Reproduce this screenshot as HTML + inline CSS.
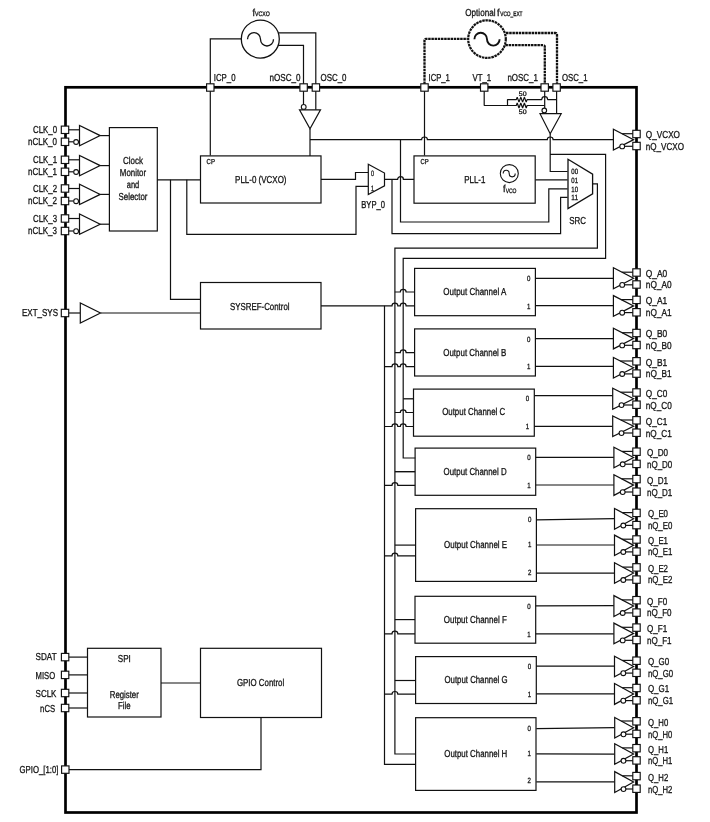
<!DOCTYPE html>
<html><head><meta charset="utf-8"><title>Block Diagram</title>
<style>
html,body{margin:0;padding:0;background:#fff;}
body{width:710px;height:822px;overflow:hidden;}
svg{display:block}
text{font-family:"Liberation Sans",sans-serif;fill:#141414;stroke:#141414;stroke-width:0.3px;text-rendering:geometricPrecision;}
svg{will-change:transform;}
</style></head><body>
<svg width="710" height="822" viewBox="0 0 710 822">
<rect x="0" y="0" width="710" height="822" fill="#fff"/>
<rect x="65.5" y="87.3" width="571.0" height="725.2" fill="none" stroke="#000" stroke-width="2.7"/>
<path d="M65.50 129.80 L79.50 129.80" fill="none" stroke="#111" stroke-width="1.2" />
<path d="M65.50 141.80 L73.60 141.80" fill="none" stroke="#111" stroke-width="1.2" />
<path d="M79.5 125.40 L79.5 145.80 L100.2 135.60 Z" fill="#fff" stroke="#111" stroke-width="1.2" />
<circle cx="76.10" cy="142.00" r="2.4" fill="#fff" stroke="#111" stroke-width="1.1" />
<path d="M100.20 135.60 L109.00 135.60" fill="none" stroke="#111" stroke-width="1.2" />
<rect x="61.30" y="126.10" width="7.4" height="7.4" fill="#fff" stroke="#111" stroke-width="1.15"/>
<rect x="61.30" y="138.10" width="7.4" height="7.4" fill="#fff" stroke="#111" stroke-width="1.15"/>
<text x="57.00" y="133.20" font-size="10.1" text-anchor="end" textLength="24.00" lengthAdjust="spacingAndGlyphs" >CLK_0</text>
<text x="57.00" y="145.20" font-size="10.1" text-anchor="end" textLength="29.00" lengthAdjust="spacingAndGlyphs" >nCLK_0</text>
<path d="M65.50 159.80 L79.50 159.80" fill="none" stroke="#111" stroke-width="1.2" />
<path d="M65.50 171.80 L73.60 171.80" fill="none" stroke="#111" stroke-width="1.2" />
<path d="M79.5 155.40 L79.5 175.80 L100.2 165.60 Z" fill="#fff" stroke="#111" stroke-width="1.2" />
<circle cx="76.10" cy="172.00" r="2.4" fill="#fff" stroke="#111" stroke-width="1.1" />
<path d="M100.20 165.60 L109.00 165.60" fill="none" stroke="#111" stroke-width="1.2" />
<rect x="61.30" y="156.10" width="7.4" height="7.4" fill="#fff" stroke="#111" stroke-width="1.15"/>
<rect x="61.30" y="168.10" width="7.4" height="7.4" fill="#fff" stroke="#111" stroke-width="1.15"/>
<text x="57.00" y="163.20" font-size="10.1" text-anchor="end" textLength="24.00" lengthAdjust="spacingAndGlyphs" >CLK_1</text>
<text x="57.00" y="175.20" font-size="10.1" text-anchor="end" textLength="29.00" lengthAdjust="spacingAndGlyphs" >nCLK_1</text>
<path d="M65.50 188.50 L79.50 188.50" fill="none" stroke="#111" stroke-width="1.2" />
<path d="M65.50 201.00 L73.60 201.00" fill="none" stroke="#111" stroke-width="1.2" />
<path d="M79.5 184.20 L79.5 204.60 L100.2 194.40 Z" fill="#fff" stroke="#111" stroke-width="1.2" />
<circle cx="76.10" cy="201.20" r="2.4" fill="#fff" stroke="#111" stroke-width="1.1" />
<path d="M100.20 194.40 L109.00 194.40" fill="none" stroke="#111" stroke-width="1.2" />
<rect x="61.30" y="184.80" width="7.4" height="7.4" fill="#fff" stroke="#111" stroke-width="1.15"/>
<rect x="61.30" y="197.30" width="7.4" height="7.4" fill="#fff" stroke="#111" stroke-width="1.15"/>
<text x="57.00" y="191.90" font-size="10.1" text-anchor="end" textLength="24.00" lengthAdjust="spacingAndGlyphs" >CLK_2</text>
<text x="57.00" y="204.40" font-size="10.1" text-anchor="end" textLength="29.00" lengthAdjust="spacingAndGlyphs" >nCLK_2</text>
<path d="M65.50 218.50 L79.50 218.50" fill="none" stroke="#111" stroke-width="1.2" />
<path d="M65.50 231.00 L73.60 231.00" fill="none" stroke="#111" stroke-width="1.2" />
<path d="M79.5 214.00 L79.5 234.40 L100.2 224.20 Z" fill="#fff" stroke="#111" stroke-width="1.2" />
<circle cx="76.10" cy="231.20" r="2.4" fill="#fff" stroke="#111" stroke-width="1.1" />
<path d="M100.20 224.20 L109.00 224.20" fill="none" stroke="#111" stroke-width="1.2" />
<rect x="61.30" y="214.80" width="7.4" height="7.4" fill="#fff" stroke="#111" stroke-width="1.15"/>
<rect x="61.30" y="227.30" width="7.4" height="7.4" fill="#fff" stroke="#111" stroke-width="1.15"/>
<text x="57.00" y="221.90" font-size="10.1" text-anchor="end" textLength="24.00" lengthAdjust="spacingAndGlyphs" >CLK_3</text>
<text x="57.00" y="234.40" font-size="10.1" text-anchor="end" textLength="29.00" lengthAdjust="spacingAndGlyphs" >nCLK_3</text>
<rect x="109.40" y="127.60" width="47.90" height="103.40" fill="none" stroke="#111" stroke-width="1.2"/>
<text x="133.00" y="164.40" font-size="10.1" text-anchor="middle" textLength="20.00" lengthAdjust="spacingAndGlyphs" >Clock</text>
<text x="133.00" y="176.40" font-size="10.1" text-anchor="middle" textLength="26.30" lengthAdjust="spacingAndGlyphs" >Monitor</text>
<text x="133.00" y="188.40" font-size="10.1" text-anchor="middle" textLength="12.50" lengthAdjust="spacingAndGlyphs" >and</text>
<text x="133.00" y="199.60" font-size="10.1" text-anchor="middle" textLength="28.90" lengthAdjust="spacingAndGlyphs" >Selector</text>
<path d="M65.50 313.00 L80.30 313.00" fill="none" stroke="#111" stroke-width="1.2" />
<path d="M80.3 302.9 L80.3 323 L100.5 313 Z" fill="#fff" stroke="#111" stroke-width="1.2" />
<path d="M100.50 313.00 L200.50 313.00" fill="none" stroke="#111" stroke-width="1.2" />
<rect x="61.30" y="309.30" width="7.4" height="7.4" fill="#fff" stroke="#111" stroke-width="1.15"/>
<text x="58.00" y="316.40" font-size="10.1" text-anchor="end" textLength="36.00" lengthAdjust="spacingAndGlyphs" >EXT_SYS</text>
<path d="M157.20 179.80 L200.50 179.80" fill="none" stroke="#111" stroke-width="1.2" />
<path d="M170.50 179.80 L170.50 299.30 L200.50 299.30" fill="none" stroke="#111" stroke-width="1.2" />
<path d="M186.80 179.80 L186.80 234.30 L356.00 234.30 L356.00 186.30 L368.30 186.30" fill="none" stroke="#111" stroke-width="1.2" />
<rect x="200.50" y="155.90" width="120.50" height="47.10" fill="none" stroke="#111" stroke-width="1.2"/>
<text x="260.80" y="183.20" font-size="10.1" text-anchor="middle" textLength="51.40" lengthAdjust="spacingAndGlyphs" >PLL-0 (VCXO)</text>
<text x="206.60" y="164.20" font-size="7.2" text-anchor="start" textLength="8.40" lengthAdjust="spacingAndGlyphs" >CP</text>
<path d="M321.00 179.40 L355.50 179.40 L355.50 172.50 L368.30 172.50" fill="none" stroke="#111" stroke-width="1.2" />
<rect x="200.50" y="282.50" width="120.50" height="46.50" fill="none" stroke="#111" stroke-width="1.2"/>
<text x="259.80" y="310.00" font-size="10.1" text-anchor="middle" textLength="59.50" lengthAdjust="spacingAndGlyphs" >SYSREF-Control</text>
<path d="M210.30 87.30 L210.30 38.80 L241.20 38.80" fill="none" stroke="#111" stroke-width="1.2" />
<path d="M210.30 87.30 L210.30 155.50" fill="none" stroke="#111" stroke-width="1.2" />
<circle cx="260.30" cy="39.10" r="19" fill="#fff" stroke="#111" stroke-width="1.3" />
<path d="M247.50 39.30 A6.5 6.7 0 0 1 260.50 39.30 A6.5 6.7 0 0 0 273.50 39.30" fill="none" stroke="#111" stroke-width="1.3" stroke-linecap="butt"/>
<path d="M278.50 32.80 L315.80 32.80 L315.80 113.00" fill="none" stroke="#111" stroke-width="1.2" />
<path d="M277.80 45.40 L303.50 45.40 L303.50 104.00" fill="none" stroke="#111" stroke-width="1.2" />
<rect x="206.60" y="83.80" width="7.4" height="7.4" fill="#fff" stroke="#111" stroke-width="1.15"/>
<rect x="299.90" y="83.80" width="7.4" height="7.4" fill="#fff" stroke="#111" stroke-width="1.15"/>
<rect x="312.20" y="83.80" width="7.4" height="7.4" fill="#fff" stroke="#111" stroke-width="1.15"/>
<path d="M299.5 109.8 L320.5 109.8 L310 128.7 Z" fill="#fff" stroke="#111" stroke-width="1.2" />
<circle cx="303.70" cy="106.90" r="2.4" fill="#fff" stroke="#111" stroke-width="1.1" />
<path d="M310.00 128.70 L310.00 155.90" fill="none" stroke="#111" stroke-width="1.2" />
<text x="252.60" y="15.80" font-size="10.1" text-anchor="start" textLength="2.50" lengthAdjust="spacingAndGlyphs" >f</text>
<text x="255.00" y="15.80" font-size="6.5" text-anchor="start" textLength="14.70" lengthAdjust="spacingAndGlyphs" >VCXO</text>
<text x="213.80" y="80.90" font-size="10.1" text-anchor="start" textLength="21.70" lengthAdjust="spacingAndGlyphs" >ICP_0</text>
<text x="269.50" y="80.90" font-size="10.1" text-anchor="start" textLength="31.00" lengthAdjust="spacingAndGlyphs" >nOSC_0</text>
<text x="320.50" y="80.90" font-size="10.1" text-anchor="start" textLength="26.00" lengthAdjust="spacingAndGlyphs" >OSC_0</text>
<path d="M310.00 139.70 L421.60 139.70 A2.9 2.7 0 0 1 427.40 139.70 L547.30 139.70 A2.9 2.7 0 0 1 553.10 139.70 L613.40 139.70" fill="none" stroke="#111" stroke-width="1.2" />
<path d="M400.50 139.70 L400.50 222.00 L548.80 222.00 L548.80 188.80 L567.60 188.80" fill="none" stroke="#111" stroke-width="1.2" />
<path d="M368.3 164.2 L384.5 173 L384.5 185.8 L368.3 194.6 Z" fill="#fff" stroke="#111" stroke-width="1.2" />
<text x="371.10" y="175.60" font-size="7.8" text-anchor="start" textLength="3.00" lengthAdjust="spacingAndGlyphs" >0</text>
<text x="371.10" y="190.60" font-size="7.8" text-anchor="start" textLength="3.00" lengthAdjust="spacingAndGlyphs" >1</text>
<text x="361.30" y="208.00" font-size="10.1" text-anchor="start" textLength="23.70" lengthAdjust="spacingAndGlyphs" >BYP_0</text>
<path d="M384.50 179.40 L397.60 179.40 A2.9 2.7 0 0 1 403.40 179.40 L414.00 179.40" fill="none" stroke="#111" stroke-width="1.2" />
<path d="M392.00 179.40 L392.00 233.60 L560.60 233.60 L560.60 197.30 L567.60 197.30" fill="none" stroke="#111" stroke-width="1.2" />
<rect x="414.00" y="155.90" width="121.20" height="47.30" fill="none" stroke="#111" stroke-width="1.2"/>
<text x="420.40" y="164.20" font-size="7.2" text-anchor="start" textLength="8.20" lengthAdjust="spacingAndGlyphs" >CP</text>
<text x="464.20" y="183.00" font-size="10.1" text-anchor="start" textLength="21.20" lengthAdjust="spacingAndGlyphs" >PLL-1</text>
<circle cx="509.30" cy="173.60" r="9" fill="#fff" stroke="#111" stroke-width="1.1" />
<path d="M503.20 173.60 A3.0 3.3 0 0 1 509.20 173.60 A3.0 3.3 0 0 0 515.20 173.60" fill="none" stroke="#111" stroke-width="1.1" stroke-linecap="butt"/>
<text x="503.00" y="191.60" font-size="10.1" text-anchor="start" textLength="2.60" lengthAdjust="spacingAndGlyphs" >f</text>
<text x="505.70" y="192.60" font-size="6.4" text-anchor="start" textLength="10.80" lengthAdjust="spacingAndGlyphs" >VCO</text>
<path d="M424.50 87.30 L424.50 155.50" fill="none" stroke="#111" stroke-width="1.2" />
<path d="M535.40 179.80 L567.60 179.80" fill="none" stroke="#111" stroke-width="1.2" />
<path d="M424.5 84 L424.5 40.3 Q424.5 38.8 426 38.8 L467.5 38.8" fill="none" stroke="#111" stroke-width="2.3" stroke-dasharray="2.5 0.7" stroke-linejoin="round"/>
<circle cx="487.00" cy="39.10" r="18.8" fill="#fff" stroke="#111" stroke-width="2.2" stroke-dasharray="2.5 0.7"/>
<path d="M474.40 39.20 A6.3 6.4 0 0 1 487.00 39.20 A6.3 6.4 0 0 0 499.60 39.20" fill="none" stroke="#111" stroke-width="1.9" stroke-linecap="butt"/>
<path d="M506 33 L555.3 33 Q557 33 557 34.7 L557 84" fill="none" stroke="#111" stroke-width="2.3" stroke-dasharray="2.5 0.7" stroke-linejoin="round"/>
<path d="M505.4 45.2 L543.2 45.2 Q544.8 45.2 544.8 46.8 L544.8 84" fill="none" stroke="#111" stroke-width="2.3" stroke-dasharray="2.5 0.7" stroke-linejoin="round"/>
<text x="465.30" y="15.80" font-size="10.1" text-anchor="start" textLength="30.20" lengthAdjust="spacingAndGlyphs" >Optional</text>
<text x="497.00" y="15.80" font-size="10.1" text-anchor="start" textLength="2.60" lengthAdjust="spacingAndGlyphs" >f</text>
<text x="500.20" y="15.80" font-size="6.4" text-anchor="start" textLength="22.30" lengthAdjust="spacingAndGlyphs" >VCO_EXT</text>
<text x="428.50" y="80.90" font-size="10.1" text-anchor="start" textLength="21.40" lengthAdjust="spacingAndGlyphs" >ICP_1</text>
<text x="472.50" y="80.90" font-size="10.1" text-anchor="start" textLength="18.70" lengthAdjust="spacingAndGlyphs" >VT_1</text>
<text x="507.40" y="80.90" font-size="10.1" text-anchor="start" textLength="30.40" lengthAdjust="spacingAndGlyphs" >nOSC_1</text>
<text x="562.00" y="80.90" font-size="10.1" text-anchor="start" textLength="25.50" lengthAdjust="spacingAndGlyphs" >OSC_1</text>
<path d="M484.20 87.30 L484.20 105.50 L516.30 105.50 L516.30 105.50 L517.20 103.00 L519.00 108.00 L520.80 103.00 L522.60 108.00 L524.40 103.00 L526.20 108.00 L527.10 105.50 L544.70 105.50" fill="none" stroke="#111" stroke-width="1.2" stroke-linejoin="bevel"/>
<path d="M507.5 105.5 L507.5 99.6 L516.3 99.6 L516.30 99.60 L517.20 97.10 L519.00 102.10 L520.80 97.10 L522.60 102.10 L524.40 97.10 L526.20 102.10 L527.10 99.60 L541.8 99.6 A2.9 2.9 0 0 1 547.6 99.6 L556.6 99.6" fill="none" stroke="#111" stroke-width="1.2" stroke-linejoin="bevel"/>
<text x="518.80" y="95.60" font-size="6.6" text-anchor="start" textLength="7.80" lengthAdjust="spacingAndGlyphs" >50</text>
<text x="518.80" y="113.90" font-size="6.6" text-anchor="start" textLength="7.80" lengthAdjust="spacingAndGlyphs" >50</text>
<path d="M544.70 87.30 L544.70 108.00" fill="none" stroke="#111" stroke-width="1.2" />
<path d="M556.60 87.30 L556.60 113.80" fill="none" stroke="#111" stroke-width="1.2" />
<rect x="420.80" y="83.80" width="7.4" height="7.4" fill="#fff" stroke="#111" stroke-width="1.15"/>
<rect x="480.50" y="83.80" width="7.4" height="7.4" fill="#fff" stroke="#111" stroke-width="1.15"/>
<rect x="541.00" y="83.80" width="7.4" height="7.4" fill="#fff" stroke="#111" stroke-width="1.15"/>
<rect x="552.90" y="83.80" width="7.4" height="7.4" fill="#fff" stroke="#111" stroke-width="1.15"/>
<path d="M540 113.7 L561.2 113.7 L550.2 133.8 Z" fill="#fff" stroke="#111" stroke-width="1.2" />
<circle cx="544.30" cy="110.40" r="2.3" fill="#fff" stroke="#111" stroke-width="1.1" />
<path d="M550.20 133.80 L550.20 171.50 L567.60 171.50" fill="none" stroke="#111" stroke-width="1.2" />
<path d="M550.00 154.40 L605.60 154.40 L605.60 258.30 L403.20 258.30 L403.20 458.00 L415.30 458.00" fill="none" stroke="#111" stroke-width="1.2" />
<path d="M568 159.3 L592.6 174.2 L592.6 193.8 L568 208.5 Z" fill="#fff" stroke="#111" stroke-width="1.3" />
<text x="571.30" y="174.20" font-size="7.5" text-anchor="start" textLength="6.70" lengthAdjust="spacingAndGlyphs" >00</text>
<text x="571.30" y="182.60" font-size="7.5" text-anchor="start" textLength="6.70" lengthAdjust="spacingAndGlyphs" >01</text>
<text x="571.30" y="191.60" font-size="7.5" text-anchor="start" textLength="6.70" lengthAdjust="spacingAndGlyphs" >10</text>
<text x="571.30" y="200.20" font-size="7.5" text-anchor="start" textLength="6.70" lengthAdjust="spacingAndGlyphs" >11</text>
<text x="569.30" y="223.90" font-size="10.1" text-anchor="start" textLength="16.80" lengthAdjust="spacingAndGlyphs" >SRC</text>
<path d="M592.40 183.80 L597.40 183.80 L597.40 248.10 L394.90 248.10 L394.90 754.00 L415.70 754.00" fill="none" stroke="#111" stroke-width="1.2" />
<path d="M613.40 129.20 L613.40 150.10 L633.60 139.65 Z" fill="#fff" stroke="#111" stroke-width="1.2" />
<path d="M622.10 133.70 L633.00 133.70" fill="none" stroke="#111" stroke-width="1.2" />
<path d="M622.20 146.30 L633.00 146.30" fill="none" stroke="#111" stroke-width="1.2" />
<circle cx="622.20" cy="146.40" r="2.4" fill="#fff" stroke="#111" stroke-width="1.1" />
<rect x="632.80" y="130.30" width="7.4" height="7.4" fill="#fff" stroke="#111" stroke-width="1.15"/>
<rect x="632.80" y="142.30" width="7.4" height="7.4" fill="#fff" stroke="#111" stroke-width="1.15"/>
<text x="645.80" y="138.40" font-size="10.1" text-anchor="start" textLength="34.20" lengthAdjust="spacingAndGlyphs" >Q_VCXO</text>
<text x="645.80" y="149.80" font-size="10.1" text-anchor="start" textLength="38.20" lengthAdjust="spacingAndGlyphs" >nQ_VCXO</text>
<path d="M384.50 305.80 L384.50 764.30 L415.70 764.30" fill="none" stroke="#111" stroke-width="1.2" />
<rect x="414.60" y="268.40" width="120.80" height="47.30" fill="none" stroke="#111" stroke-width="1.2"/>
<text x="474.80" y="294.80" font-size="10.1" text-anchor="middle" textLength="63.00" lengthAdjust="spacingAndGlyphs" >Output Channel A</text>
<text x="528.60" y="281.10" font-size="7.6" text-anchor="middle" textLength="3.40" lengthAdjust="spacingAndGlyphs" >0</text>
<text x="528.60" y="308.70" font-size="7.6" text-anchor="middle" textLength="3.40" lengthAdjust="spacingAndGlyphs" >1</text>
<path d="M394.90 292.00 L400.30 292.00 A2.9 2.7 0 0 1 406.10 292.00 L414.30 292.00" fill="none" stroke="#111" stroke-width="1.2" />
<path d="M321.00 305.80 L392.00 305.80 A2.9 2.7 0 0 1 397.80 305.80 L400.30 305.80 A2.9 2.7 0 0 1 406.10 305.80 L414.30 305.80" fill="none" stroke="#111" stroke-width="1.2" />
<rect x="414.60" y="328.90" width="120.80" height="47.10" fill="none" stroke="#111" stroke-width="1.2"/>
<text x="474.80" y="355.80" font-size="10.1" text-anchor="middle" textLength="63.00" lengthAdjust="spacingAndGlyphs" >Output Channel B</text>
<text x="528.60" y="341.90" font-size="7.6" text-anchor="middle" textLength="3.40" lengthAdjust="spacingAndGlyphs" >0</text>
<text x="528.60" y="368.50" font-size="7.6" text-anchor="middle" textLength="3.40" lengthAdjust="spacingAndGlyphs" >1</text>
<path d="M394.90 352.60 L400.30 352.60 A2.9 2.7 0 0 1 406.10 352.60 L414.30 352.60" fill="none" stroke="#111" stroke-width="1.2" />
<path d="M384.50 366.60 L392.00 366.60 A2.9 2.7 0 0 1 397.80 366.60 L400.30 366.60 A2.9 2.7 0 0 1 406.10 366.60 L414.30 366.60" fill="none" stroke="#111" stroke-width="1.2" />
<rect x="413.50" y="389.10" width="120.80" height="47.10" fill="none" stroke="#111" stroke-width="1.2"/>
<text x="473.70" y="414.80" font-size="10.1" text-anchor="middle" textLength="63.00" lengthAdjust="spacingAndGlyphs" >Output Channel C</text>
<text x="527.50" y="401.20" font-size="7.6" text-anchor="middle" textLength="3.40" lengthAdjust="spacingAndGlyphs" >0</text>
<text x="527.50" y="429.10" font-size="7.6" text-anchor="middle" textLength="3.40" lengthAdjust="spacingAndGlyphs" >1</text>
<path d="M403.20 398.80 L413.50 398.80" fill="none" stroke="#111" stroke-width="1.3" />
<path d="M394.90 412.50 L400.30 412.50 A2.9 2.7 0 0 1 406.10 412.50 L413.50 412.50" fill="none" stroke="#111" stroke-width="1.2" />
<path d="M384.50 426.50 L392.00 426.50 A2.9 2.7 0 0 1 397.80 426.50 L400.30 426.50 A2.9 2.7 0 0 1 406.10 426.50 L413.50 426.50" fill="none" stroke="#111" stroke-width="1.2" />
<rect x="415.10" y="448.10" width="120.60" height="47.20" fill="none" stroke="#111" stroke-width="1.2"/>
<text x="475.10" y="474.90" font-size="10.1" text-anchor="middle" textLength="63.00" lengthAdjust="spacingAndGlyphs" >Output Channel D</text>
<text x="528.90" y="460.10" font-size="7.6" text-anchor="middle" textLength="3.40" lengthAdjust="spacingAndGlyphs" >0</text>
<text x="528.90" y="488.00" font-size="7.6" text-anchor="middle" textLength="3.40" lengthAdjust="spacingAndGlyphs" >1</text>
<path d="M394.90 471.70 L415.10 471.70" fill="none" stroke="#111" stroke-width="1.4" />
<path d="M384.50 485.30 L392.00 485.30 A2.9 2.7 0 0 1 397.80 485.30 L415.10 485.30" fill="none" stroke="#111" stroke-width="1.2" />
<rect x="415.60" y="508.70" width="120.80" height="72.70" fill="none" stroke="#111" stroke-width="1.2"/>
<text x="475.60" y="547.80" font-size="10.1" text-anchor="middle" textLength="63.00" lengthAdjust="spacingAndGlyphs" >Output Channel E</text>
<text x="529.60" y="522.00" font-size="7.6" text-anchor="middle" textLength="3.40" lengthAdjust="spacingAndGlyphs" >0</text>
<text x="529.60" y="547.00" font-size="7.6" text-anchor="middle" textLength="3.40" lengthAdjust="spacingAndGlyphs" >1</text>
<text x="529.60" y="575.30" font-size="7.6" text-anchor="middle" textLength="3.40" lengthAdjust="spacingAndGlyphs" >2</text>
<path d="M394.90 545.10 L415.60 545.10" fill="none" stroke="#111" stroke-width="1.2" />
<path d="M384.50 555.80 L392.00 555.80 A2.9 2.7 0 0 1 397.80 555.80 L415.60 555.80" fill="none" stroke="#111" stroke-width="1.2" />
<rect x="415.00" y="596.30" width="120.70" height="46.90" fill="none" stroke="#111" stroke-width="1.2"/>
<text x="475.30" y="622.80" font-size="10.1" text-anchor="middle" textLength="63.00" lengthAdjust="spacingAndGlyphs" >Output Channel F</text>
<text x="528.90" y="608.60" font-size="7.6" text-anchor="middle" textLength="3.40" lengthAdjust="spacingAndGlyphs" >0</text>
<text x="528.90" y="636.50" font-size="7.6" text-anchor="middle" textLength="3.40" lengthAdjust="spacingAndGlyphs" >1</text>
<path d="M394.90 619.60 L415.00 619.60" fill="none" stroke="#111" stroke-width="1.2" />
<path d="M384.50 633.80 L392.00 633.80 A2.9 2.7 0 0 1 397.80 633.80 L415.00 633.80" fill="none" stroke="#111" stroke-width="1.2" />
<rect x="415.60" y="656.60" width="120.70" height="46.90" fill="none" stroke="#111" stroke-width="1.2"/>
<text x="476.00" y="682.90" font-size="10.1" text-anchor="middle" textLength="63.00" lengthAdjust="spacingAndGlyphs" >Output Channel G</text>
<text x="529.50" y="668.90" font-size="7.6" text-anchor="middle" textLength="3.40" lengthAdjust="spacingAndGlyphs" >0</text>
<text x="529.50" y="696.50" font-size="7.6" text-anchor="middle" textLength="3.40" lengthAdjust="spacingAndGlyphs" >1</text>
<path d="M394.90 680.50 L415.60 680.50" fill="none" stroke="#111" stroke-width="1.2" />
<path d="M384.50 694.20 L392.00 694.20 A2.9 2.7 0 0 1 397.80 694.20 L415.60 694.20" fill="none" stroke="#111" stroke-width="1.2" />
<rect x="415.60" y="717.70" width="120.40" height="72.70" fill="none" stroke="#111" stroke-width="1.2"/>
<text x="475.80" y="756.60" font-size="10.1" text-anchor="middle" textLength="63.00" lengthAdjust="spacingAndGlyphs" >Output Channel H</text>
<text x="529.20" y="731.20" font-size="7.6" text-anchor="middle" textLength="3.40" lengthAdjust="spacingAndGlyphs" >0</text>
<text x="529.20" y="756.30" font-size="7.6" text-anchor="middle" textLength="3.40" lengthAdjust="spacingAndGlyphs" >1</text>
<text x="529.20" y="783.00" font-size="7.6" text-anchor="middle" textLength="3.40" lengthAdjust="spacingAndGlyphs" >2</text>
<path d="M535.40 278.30 L613.40 278.30" fill="none" stroke="#111" stroke-width="1.2" />
<path d="M613.40 267.80 L613.40 288.80 L633.60 278.30 Z" fill="#fff" stroke="#111" stroke-width="1.2" />
<path d="M621.86 272.20 L633.00 272.20" fill="none" stroke="#111" stroke-width="1.2" />
<path d="M622.20 284.80 L633.00 284.80" fill="none" stroke="#111" stroke-width="1.2" />
<circle cx="622.20" cy="284.90" r="2.4" fill="#fff" stroke="#111" stroke-width="1.1" />
<rect x="632.80" y="268.80" width="7.4" height="7.4" fill="#fff" stroke="#111" stroke-width="1.15"/>
<rect x="632.80" y="280.80" width="7.4" height="7.4" fill="#fff" stroke="#111" stroke-width="1.15"/>
<text x="645.80" y="276.90" font-size="10.1" text-anchor="start" textLength="21.40" lengthAdjust="spacingAndGlyphs" >Q_A0</text>
<text x="645.80" y="288.30" font-size="10.1" text-anchor="start" textLength="25.80" lengthAdjust="spacingAndGlyphs" >nQ_A0</text>
<path d="M535.40 305.70 L613.40 305.70" fill="none" stroke="#111" stroke-width="1.2" />
<path d="M613.40 295.60 L613.40 316.20 L633.60 305.90 Z" fill="#fff" stroke="#111" stroke-width="1.2" />
<path d="M621.24 299.60 L633.00 299.60" fill="none" stroke="#111" stroke-width="1.2" />
<path d="M622.20 312.60 L633.00 312.60" fill="none" stroke="#111" stroke-width="1.2" />
<circle cx="622.20" cy="312.70" r="2.4" fill="#fff" stroke="#111" stroke-width="1.1" />
<rect x="632.80" y="296.20" width="7.4" height="7.4" fill="#fff" stroke="#111" stroke-width="1.15"/>
<rect x="632.80" y="308.60" width="7.4" height="7.4" fill="#fff" stroke="#111" stroke-width="1.15"/>
<text x="645.80" y="304.30" font-size="10.1" text-anchor="start" textLength="21.40" lengthAdjust="spacingAndGlyphs" >Q_A1</text>
<text x="645.80" y="316.10" font-size="10.1" text-anchor="start" textLength="25.80" lengthAdjust="spacingAndGlyphs" >nQ_A1</text>
<path d="M535.40 338.60 L613.40 338.60" fill="none" stroke="#111" stroke-width="1.2" />
<path d="M613.40 328.30 L613.40 348.90 L633.60 338.60 Z" fill="#fff" stroke="#111" stroke-width="1.2" />
<path d="M622.03 332.70 L633.00 332.70" fill="none" stroke="#111" stroke-width="1.2" />
<path d="M622.20 345.30 L633.00 345.30" fill="none" stroke="#111" stroke-width="1.2" />
<circle cx="622.20" cy="345.40" r="2.4" fill="#fff" stroke="#111" stroke-width="1.1" />
<rect x="632.80" y="329.30" width="7.4" height="7.4" fill="#fff" stroke="#111" stroke-width="1.15"/>
<rect x="632.80" y="341.30" width="7.4" height="7.4" fill="#fff" stroke="#111" stroke-width="1.15"/>
<text x="645.80" y="337.40" font-size="10.1" text-anchor="start" textLength="21.40" lengthAdjust="spacingAndGlyphs" >Q_B0</text>
<text x="645.80" y="348.80" font-size="10.1" text-anchor="start" textLength="25.80" lengthAdjust="spacingAndGlyphs" >nQ_B0</text>
<path d="M535.40 366.30 L613.40 366.30" fill="none" stroke="#111" stroke-width="1.2" />
<path d="M613.40 357.50 L613.40 378.00 L633.60 367.75 Z" fill="#fff" stroke="#111" stroke-width="1.2" />
<path d="M620.30 361.00 L633.00 361.00" fill="none" stroke="#111" stroke-width="1.2" />
<path d="M622.20 373.90 L633.00 373.90" fill="none" stroke="#111" stroke-width="1.2" />
<circle cx="622.20" cy="374.00" r="2.4" fill="#fff" stroke="#111" stroke-width="1.1" />
<rect x="632.80" y="357.60" width="7.4" height="7.4" fill="#fff" stroke="#111" stroke-width="1.15"/>
<rect x="632.80" y="369.90" width="7.4" height="7.4" fill="#fff" stroke="#111" stroke-width="1.15"/>
<text x="645.80" y="365.70" font-size="10.1" text-anchor="start" textLength="21.40" lengthAdjust="spacingAndGlyphs" >Q_B1</text>
<text x="645.80" y="377.40" font-size="10.1" text-anchor="start" textLength="25.80" lengthAdjust="spacingAndGlyphs" >nQ_B1</text>
<path d="M534.30 395.70 L612.70 395.70" fill="none" stroke="#111" stroke-width="1.2" />
<path d="M612.70 388.20 L612.70 409.20 L633.60 398.70 Z" fill="#fff" stroke="#111" stroke-width="1.2" />
<path d="M620.66 392.20 L633.00 392.20" fill="none" stroke="#111" stroke-width="1.2" />
<path d="M621.50 405.00 L633.00 405.00" fill="none" stroke="#111" stroke-width="1.2" />
<circle cx="621.50" cy="405.10" r="2.4" fill="#fff" stroke="#111" stroke-width="1.1" />
<rect x="632.80" y="388.80" width="7.4" height="7.4" fill="#fff" stroke="#111" stroke-width="1.15"/>
<rect x="632.80" y="401.00" width="7.4" height="7.4" fill="#fff" stroke="#111" stroke-width="1.15"/>
<text x="645.80" y="396.90" font-size="10.1" text-anchor="start" textLength="21.50" lengthAdjust="spacingAndGlyphs" >Q_C0</text>
<text x="645.80" y="408.50" font-size="10.1" text-anchor="start" textLength="26.00" lengthAdjust="spacingAndGlyphs" >nQ_C0</text>
<path d="M534.30 426.40 L612.70 426.40" fill="none" stroke="#111" stroke-width="1.2" />
<path d="M612.70 416.00 L612.70 436.50 L633.60 426.25 Z" fill="#fff" stroke="#111" stroke-width="1.2" />
<path d="M620.86 420.00 L633.00 420.00" fill="none" stroke="#111" stroke-width="1.2" />
<path d="M621.50 433.00 L633.00 433.00" fill="none" stroke="#111" stroke-width="1.2" />
<circle cx="621.50" cy="433.10" r="2.4" fill="#fff" stroke="#111" stroke-width="1.1" />
<rect x="632.80" y="416.60" width="7.4" height="7.4" fill="#fff" stroke="#111" stroke-width="1.15"/>
<rect x="632.80" y="429.00" width="7.4" height="7.4" fill="#fff" stroke="#111" stroke-width="1.15"/>
<text x="645.80" y="424.70" font-size="10.1" text-anchor="start" textLength="21.50" lengthAdjust="spacingAndGlyphs" >Q_C1</text>
<text x="645.80" y="436.50" font-size="10.1" text-anchor="start" textLength="26.00" lengthAdjust="spacingAndGlyphs" >nQ_C1</text>
<path d="M535.70 457.40 L613.90 457.40" fill="none" stroke="#111" stroke-width="1.2" />
<path d="M613.90 447.20 L613.90 467.70 L633.60 457.45 Z" fill="#fff" stroke="#111" stroke-width="1.2" />
<path d="M621.97 451.40 L633.00 451.40" fill="none" stroke="#111" stroke-width="1.2" />
<path d="M622.70 464.20 L633.00 464.20" fill="none" stroke="#111" stroke-width="1.2" />
<circle cx="622.70" cy="464.30" r="2.4" fill="#fff" stroke="#111" stroke-width="1.1" />
<rect x="632.80" y="448.00" width="7.4" height="7.4" fill="#fff" stroke="#111" stroke-width="1.15"/>
<rect x="632.80" y="460.20" width="7.4" height="7.4" fill="#fff" stroke="#111" stroke-width="1.15"/>
<text x="647.00" y="456.10" font-size="10.1" text-anchor="start" textLength="21.10" lengthAdjust="spacingAndGlyphs" >Q_D0</text>
<text x="647.00" y="467.70" font-size="10.1" text-anchor="start" textLength="25.30" lengthAdjust="spacingAndGlyphs" >nQ_D0</text>
<path d="M535.70 485.00 L613.90 485.00" fill="none" stroke="#111" stroke-width="1.2" />
<path d="M613.90 474.80 L613.90 495.40 L633.60 485.10 Z" fill="#fff" stroke="#111" stroke-width="1.2" />
<path d="M621.55 478.80 L633.00 478.80" fill="none" stroke="#111" stroke-width="1.2" />
<path d="M622.70 492.00 L633.00 492.00" fill="none" stroke="#111" stroke-width="1.2" />
<circle cx="622.70" cy="492.10" r="2.4" fill="#fff" stroke="#111" stroke-width="1.1" />
<rect x="632.80" y="475.40" width="7.4" height="7.4" fill="#fff" stroke="#111" stroke-width="1.15"/>
<rect x="632.80" y="488.00" width="7.4" height="7.4" fill="#fff" stroke="#111" stroke-width="1.15"/>
<text x="647.00" y="483.50" font-size="10.1" text-anchor="start" textLength="21.10" lengthAdjust="spacingAndGlyphs" >Q_D1</text>
<text x="647.00" y="495.50" font-size="10.1" text-anchor="start" textLength="25.30" lengthAdjust="spacingAndGlyphs" >nQ_D1</text>
<path d="M536.30 519.80 L614.50 518.70" fill="none" stroke="#111" stroke-width="1.2" />
<path d="M614.50 508.40 L614.50 529.20 L633.60 518.80 Z" fill="#fff" stroke="#111" stroke-width="1.2" />
<path d="M622.21 512.60 L633.00 512.60" fill="none" stroke="#111" stroke-width="1.2" />
<path d="M623.30 525.40 L633.00 525.40" fill="none" stroke="#111" stroke-width="1.2" />
<circle cx="623.30" cy="525.50" r="2.4" fill="#fff" stroke="#111" stroke-width="1.1" />
<rect x="632.80" y="509.20" width="7.4" height="7.4" fill="#fff" stroke="#111" stroke-width="1.15"/>
<rect x="632.80" y="521.40" width="7.4" height="7.4" fill="#fff" stroke="#111" stroke-width="1.15"/>
<text x="647.90" y="517.30" font-size="10.1" text-anchor="start" textLength="20.10" lengthAdjust="spacingAndGlyphs" >Q_E0</text>
<text x="647.90" y="528.90" font-size="10.1" text-anchor="start" textLength="24.40" lengthAdjust="spacingAndGlyphs" >nQ_E0</text>
<path d="M536.30 545.00 L614.50 545.00" fill="none" stroke="#111" stroke-width="1.2" />
<path d="M614.50 535.10 L614.50 555.60 L633.60 545.35 Z" fill="#fff" stroke="#111" stroke-width="1.2" />
<path d="M622.14 539.20 L633.00 539.20" fill="none" stroke="#111" stroke-width="1.2" />
<path d="M623.30 551.90 L633.00 551.90" fill="none" stroke="#111" stroke-width="1.2" />
<circle cx="623.30" cy="552.00" r="2.4" fill="#fff" stroke="#111" stroke-width="1.1" />
<rect x="632.80" y="535.80" width="7.4" height="7.4" fill="#fff" stroke="#111" stroke-width="1.15"/>
<rect x="632.80" y="547.90" width="7.4" height="7.4" fill="#fff" stroke="#111" stroke-width="1.15"/>
<text x="647.90" y="543.90" font-size="10.1" text-anchor="start" textLength="20.10" lengthAdjust="spacingAndGlyphs" >Q_E1</text>
<text x="647.90" y="555.40" font-size="10.1" text-anchor="start" textLength="24.40" lengthAdjust="spacingAndGlyphs" >nQ_E1</text>
<path d="M536.30 573.10 L614.50 573.10" fill="none" stroke="#111" stroke-width="1.2" />
<path d="M614.50 562.70 L614.50 583.30 L633.60 573.00 Z" fill="#fff" stroke="#111" stroke-width="1.2" />
<path d="M622.66 567.10 L633.00 567.10" fill="none" stroke="#111" stroke-width="1.2" />
<path d="M623.30 579.90 L633.00 579.90" fill="none" stroke="#111" stroke-width="1.2" />
<circle cx="623.30" cy="580.00" r="2.4" fill="#fff" stroke="#111" stroke-width="1.1" />
<rect x="632.80" y="563.70" width="7.4" height="7.4" fill="#fff" stroke="#111" stroke-width="1.15"/>
<rect x="632.80" y="575.90" width="7.4" height="7.4" fill="#fff" stroke="#111" stroke-width="1.15"/>
<text x="647.90" y="571.80" font-size="10.1" text-anchor="start" textLength="20.10" lengthAdjust="spacingAndGlyphs" >Q_E2</text>
<text x="647.90" y="583.40" font-size="10.1" text-anchor="start" textLength="24.40" lengthAdjust="spacingAndGlyphs" >nQ_E2</text>
<path d="M535.70 605.90 L613.90 605.70" fill="none" stroke="#111" stroke-width="1.2" />
<path d="M613.90 595.60 L613.90 616.50 L633.60 606.05 Z" fill="#fff" stroke="#111" stroke-width="1.2" />
<path d="M622.01 599.90 L633.00 599.90" fill="none" stroke="#111" stroke-width="1.2" />
<path d="M622.70 612.90 L633.00 612.90" fill="none" stroke="#111" stroke-width="1.2" />
<circle cx="622.70" cy="613.00" r="2.4" fill="#fff" stroke="#111" stroke-width="1.1" />
<rect x="632.80" y="596.50" width="7.4" height="7.4" fill="#fff" stroke="#111" stroke-width="1.15"/>
<rect x="632.80" y="608.90" width="7.4" height="7.4" fill="#fff" stroke="#111" stroke-width="1.15"/>
<text x="647.00" y="604.60" font-size="10.1" text-anchor="start" textLength="20.10" lengthAdjust="spacingAndGlyphs" >Q_F0</text>
<text x="647.00" y="616.40" font-size="10.1" text-anchor="start" textLength="24.60" lengthAdjust="spacingAndGlyphs" >nQ_F0</text>
<path d="M535.70 633.80 L613.90 633.80" fill="none" stroke="#111" stroke-width="1.2" />
<path d="M613.90 623.10 L613.90 643.70 L633.60 633.40 Z" fill="#fff" stroke="#111" stroke-width="1.2" />
<path d="M621.93 627.30 L633.00 627.30" fill="none" stroke="#111" stroke-width="1.2" />
<path d="M622.70 640.30 L633.00 640.30" fill="none" stroke="#111" stroke-width="1.2" />
<circle cx="622.70" cy="640.40" r="2.4" fill="#fff" stroke="#111" stroke-width="1.1" />
<rect x="632.80" y="623.90" width="7.4" height="7.4" fill="#fff" stroke="#111" stroke-width="1.15"/>
<rect x="632.80" y="636.30" width="7.4" height="7.4" fill="#fff" stroke="#111" stroke-width="1.15"/>
<text x="647.00" y="632.00" font-size="10.1" text-anchor="start" textLength="20.10" lengthAdjust="spacingAndGlyphs" >Q_F1</text>
<text x="647.00" y="643.80" font-size="10.1" text-anchor="start" textLength="24.60" lengthAdjust="spacingAndGlyphs" >nQ_F1</text>
<path d="M536.30 666.20 L614.50 666.20" fill="none" stroke="#111" stroke-width="1.2" />
<path d="M614.50 656.30 L614.50 676.80 L633.60 666.55 Z" fill="#fff" stroke="#111" stroke-width="1.2" />
<path d="M622.14 660.40 L633.00 660.40" fill="none" stroke="#111" stroke-width="1.2" />
<path d="M623.30 673.10 L633.00 673.10" fill="none" stroke="#111" stroke-width="1.2" />
<circle cx="623.30" cy="673.20" r="2.4" fill="#fff" stroke="#111" stroke-width="1.1" />
<rect x="632.80" y="657.00" width="7.4" height="7.4" fill="#fff" stroke="#111" stroke-width="1.15"/>
<rect x="632.80" y="669.10" width="7.4" height="7.4" fill="#fff" stroke="#111" stroke-width="1.15"/>
<text x="647.90" y="665.10" font-size="10.1" text-anchor="start" textLength="21.20" lengthAdjust="spacingAndGlyphs" >Q_G0</text>
<text x="647.90" y="676.60" font-size="10.1" text-anchor="start" textLength="25.20" lengthAdjust="spacingAndGlyphs" >nQ_G0</text>
<path d="M536.30 693.90 L614.50 693.90" fill="none" stroke="#111" stroke-width="1.2" />
<path d="M614.50 683.50 L614.50 704.40 L633.60 693.95 Z" fill="#fff" stroke="#111" stroke-width="1.2" />
<path d="M622.18 687.70 L633.00 687.70" fill="none" stroke="#111" stroke-width="1.2" />
<path d="M623.30 700.60 L633.00 700.60" fill="none" stroke="#111" stroke-width="1.2" />
<circle cx="623.30" cy="700.70" r="2.4" fill="#fff" stroke="#111" stroke-width="1.1" />
<rect x="632.80" y="684.30" width="7.4" height="7.4" fill="#fff" stroke="#111" stroke-width="1.15"/>
<rect x="632.80" y="696.60" width="7.4" height="7.4" fill="#fff" stroke="#111" stroke-width="1.15"/>
<text x="647.90" y="692.40" font-size="10.1" text-anchor="start" textLength="21.20" lengthAdjust="spacingAndGlyphs" >Q_G1</text>
<text x="647.90" y="704.10" font-size="10.1" text-anchor="start" textLength="25.20" lengthAdjust="spacingAndGlyphs" >nQ_G1</text>
<path d="M536.30 728.60 L614.70 727.60" fill="none" stroke="#111" stroke-width="1.2" />
<path d="M614.70 717.40 L614.70 738.00 L633.60 727.70 Z" fill="#fff" stroke="#111" stroke-width="1.2" />
<path d="M621.31 721.00 L633.00 721.00" fill="none" stroke="#111" stroke-width="1.2" />
<path d="M623.50 734.20 L633.00 734.20" fill="none" stroke="#111" stroke-width="1.2" />
<circle cx="623.50" cy="734.30" r="2.4" fill="#fff" stroke="#111" stroke-width="1.1" />
<rect x="632.80" y="717.60" width="7.4" height="7.4" fill="#fff" stroke="#111" stroke-width="1.15"/>
<rect x="632.80" y="730.20" width="7.4" height="7.4" fill="#fff" stroke="#111" stroke-width="1.15"/>
<text x="648.00" y="725.70" font-size="10.1" text-anchor="start" textLength="20.20" lengthAdjust="spacingAndGlyphs" >Q_H0</text>
<text x="648.00" y="737.70" font-size="10.1" text-anchor="start" textLength="24.20" lengthAdjust="spacingAndGlyphs" >nQ_H0</text>
<path d="M536.30 753.80 L614.70 754.10" fill="none" stroke="#111" stroke-width="1.2" />
<path d="M614.70 743.80 L614.70 764.30 L633.60 754.05 Z" fill="#fff" stroke="#111" stroke-width="1.2" />
<path d="M622.26 747.90 L633.00 747.90" fill="none" stroke="#111" stroke-width="1.2" />
<path d="M623.50 760.70 L633.00 760.70" fill="none" stroke="#111" stroke-width="1.2" />
<circle cx="623.50" cy="760.80" r="2.4" fill="#fff" stroke="#111" stroke-width="1.1" />
<rect x="632.80" y="744.50" width="7.4" height="7.4" fill="#fff" stroke="#111" stroke-width="1.15"/>
<rect x="632.80" y="756.70" width="7.4" height="7.4" fill="#fff" stroke="#111" stroke-width="1.15"/>
<text x="648.00" y="752.60" font-size="10.1" text-anchor="start" textLength="20.20" lengthAdjust="spacingAndGlyphs" >Q_H1</text>
<text x="648.00" y="764.20" font-size="10.1" text-anchor="start" textLength="24.20" lengthAdjust="spacingAndGlyphs" >nQ_H1</text>
<path d="M536.30 781.90 L614.70 781.80" fill="none" stroke="#111" stroke-width="1.2" />
<path d="M614.70 771.60 L614.70 792.50 L633.60 782.05 Z" fill="#fff" stroke="#111" stroke-width="1.2" />
<path d="M622.30 775.80 L633.00 775.80" fill="none" stroke="#111" stroke-width="1.2" />
<path d="M623.50 789.00 L633.00 789.00" fill="none" stroke="#111" stroke-width="1.2" />
<circle cx="623.50" cy="789.10" r="2.4" fill="#fff" stroke="#111" stroke-width="1.1" />
<rect x="632.80" y="772.40" width="7.4" height="7.4" fill="#fff" stroke="#111" stroke-width="1.15"/>
<rect x="632.80" y="785.00" width="7.4" height="7.4" fill="#fff" stroke="#111" stroke-width="1.15"/>
<text x="648.00" y="780.50" font-size="10.1" text-anchor="start" textLength="20.20" lengthAdjust="spacingAndGlyphs" >Q_H2</text>
<text x="648.00" y="792.50" font-size="10.1" text-anchor="start" textLength="24.20" lengthAdjust="spacingAndGlyphs" >nQ_H2</text>
<rect x="87.50" y="648.30" width="73.50" height="68.70" fill="none" stroke="#111" stroke-width="1.2"/>
<text x="124.30" y="662.00" font-size="10.1" text-anchor="middle" textLength="13.00" lengthAdjust="spacingAndGlyphs" >SPI</text>
<text x="124.30" y="697.60" font-size="10.1" text-anchor="middle" textLength="29.00" lengthAdjust="spacingAndGlyphs" >Register</text>
<text x="124.30" y="709.20" font-size="10.1" text-anchor="middle" textLength="12.50" lengthAdjust="spacingAndGlyphs" >File</text>
<path d="M65.50 657.10 L87.50 657.10" fill="none" stroke="#111" stroke-width="1.2" />
<rect x="61.40" y="653.40" width="7.4" height="7.4" fill="#fff" stroke="#111" stroke-width="1.15"/>
<text x="56.60" y="660.10" font-size="10.1" text-anchor="end" textLength="21.00" lengthAdjust="spacingAndGlyphs" >SDAT</text>
<path d="M65.50 674.90 L87.50 674.90" fill="none" stroke="#111" stroke-width="1.2" />
<rect x="61.40" y="671.20" width="7.4" height="7.4" fill="#fff" stroke="#111" stroke-width="1.15"/>
<text x="55.10" y="678.60" font-size="10.1" text-anchor="end" textLength="19.50" lengthAdjust="spacingAndGlyphs" >MISO</text>
<path d="M65.50 693.00 L87.50 693.00" fill="none" stroke="#111" stroke-width="1.2" />
<rect x="61.40" y="689.30" width="7.4" height="7.4" fill="#fff" stroke="#111" stroke-width="1.15"/>
<text x="56.40" y="696.70" font-size="10.1" text-anchor="end" textLength="20.80" lengthAdjust="spacingAndGlyphs" >SCLK</text>
<path d="M65.50 708.00 L87.50 708.00" fill="none" stroke="#111" stroke-width="1.2" />
<rect x="61.40" y="704.30" width="7.4" height="7.4" fill="#fff" stroke="#111" stroke-width="1.15"/>
<text x="55.10" y="711.70" font-size="10.1" text-anchor="end" textLength="15.00" lengthAdjust="spacingAndGlyphs" >nCS</text>
<path d="M161.00 683.00 L200.50 683.00" fill="none" stroke="#111" stroke-width="1.2" />
<rect x="200.50" y="648.30" width="121.00" height="69.20" fill="none" stroke="#111" stroke-width="1.2"/>
<text x="260.60" y="685.90" font-size="10.1" text-anchor="middle" textLength="47.20" lengthAdjust="spacingAndGlyphs" >GPIO Control</text>
<path d="M65.50 769.60 L261.00 769.60 L261.00 717.50" fill="none" stroke="#111" stroke-width="1.2" />
<rect x="61.60" y="765.90" width="7.4" height="7.4" fill="#fff" stroke="#111" stroke-width="1.15"/>
<text x="58.40" y="773.00" font-size="10.1" text-anchor="end" textLength="38.90" lengthAdjust="spacingAndGlyphs" >GPIO_[1:0]</text>
</svg>
</body></html>
